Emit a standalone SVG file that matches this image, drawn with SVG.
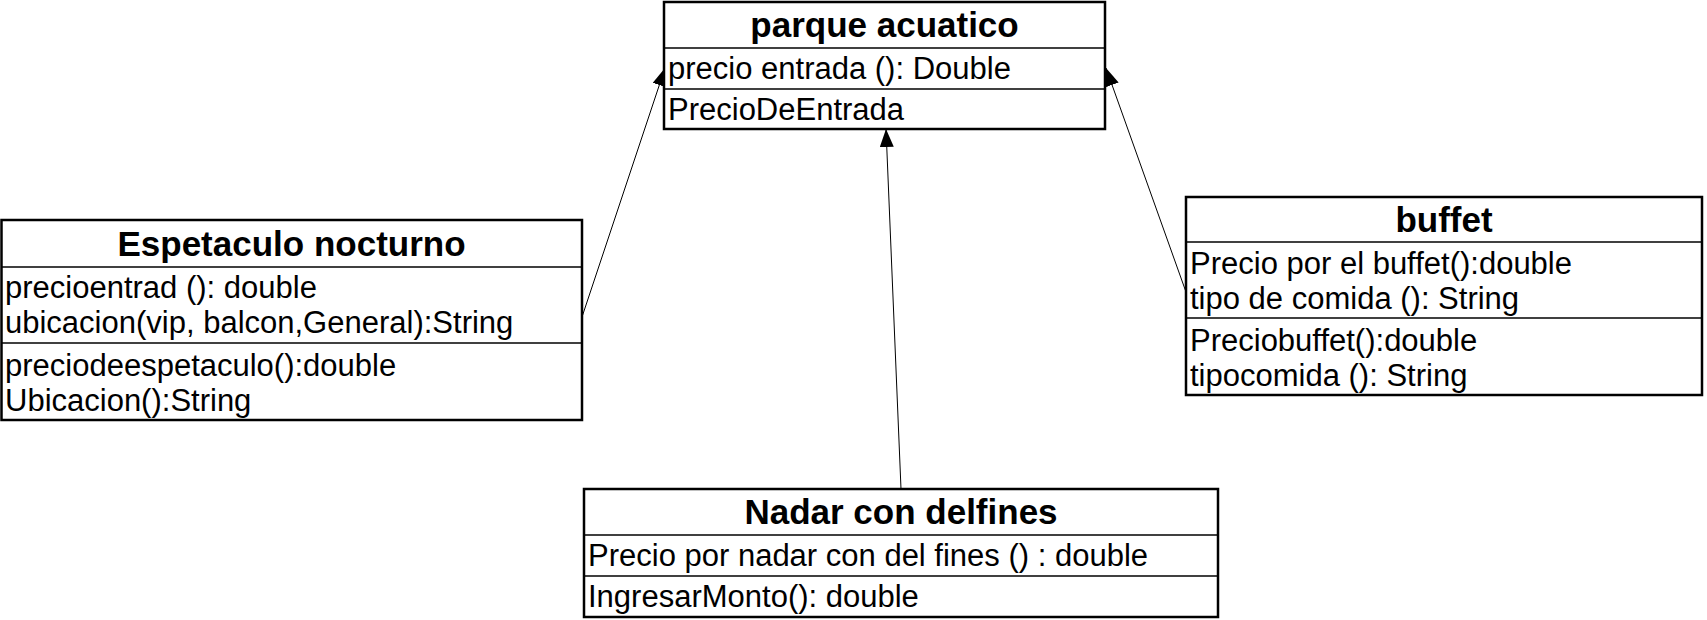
<svg xmlns="http://www.w3.org/2000/svg" width="1707" height="620" viewBox="0 0 1707 620">
<style>
.box{fill:#fff;stroke:#000;stroke-width:2.5}
.div{stroke:#000;stroke-width:1.5}
.t{font-family:"Liberation Sans",Arial,sans-serif;font-size:35px;font-weight:bold;text-anchor:middle;fill:#000}
.b{font-family:"Liberation Sans",Arial,sans-serif;font-size:31px;fill:#000}
.c{stroke:#000;stroke-width:1;fill:none}
</style>
<defs>
<marker id="tri" markerUnits="userSpaceOnUse" markerWidth="20" markerHeight="16" refX="18" refY="7" orient="auto">
<path d="M0,0 L18,7 L0,14 z" fill="#000"/>
</marker>
</defs>
<rect width="1707" height="620" fill="#fff"/>
<g id="connectors">
<line class="c" x1="582" y1="317" x2="665" y2="68" marker-end="url(#tri)"/>
<line class="c" x1="901" y1="489" x2="886" y2="129" marker-end="url(#tri)"/>
<line class="c" x1="1186" y1="292" x2="1106" y2="68" marker-end="url(#tri)"/>
</g>
<g id="parque">
<rect class="box" x="664" y="2" width="441" height="127"/>
<line class="div" x1="664" y1="48" x2="1105" y2="48"/>
<line class="div" x1="664" y1="89" x2="1105" y2="89"/>
<text class="t" x="884.5" y="37">parque acuatico</text>
<text class="b" x="668" y="79">precio entrada (): Double</text>
<text class="b" x="668" y="120">PrecioDeEntrada</text>
</g>
<g id="espetaculo">
<rect class="box" x="1.5" y="220" width="580.5" height="200"/>
<line class="div" x1="1.5" y1="267" x2="582" y2="267"/>
<line class="div" x1="1.5" y1="343" x2="582" y2="343"/>
<text class="t" x="291.5" y="256">Espetaculo nocturno</text>
<text class="b" x="5" y="298">precioentrad (): double</text>
<text class="b" x="5" y="333">ubicacion(vip, balcon,General):String</text>
<text class="b" x="5" y="376">preciodeespetaculo():double</text>
<text class="b" x="5" y="411">Ubicacion():String</text>
</g>
<g id="buffet">
<rect class="box" x="1186" y="197" width="516" height="198"/>
<line class="div" x1="1186" y1="242" x2="1702" y2="242"/>
<line class="div" x1="1186" y1="318" x2="1702" y2="318"/>
<text class="t" x="1444" y="232">buffet</text>
<text class="b" x="1190" y="274">Precio por el buffet():double</text>
<text class="b" x="1190" y="309">tipo de comida (): String</text>
<text class="b" x="1190" y="351">Preciobuffet():double</text>
<text class="b" x="1190" y="386">tipocomida (): String</text>
</g>
<g id="nadar">
<rect class="box" x="584" y="489" width="634" height="128"/>
<line class="div" x1="584" y1="535" x2="1218" y2="535"/>
<line class="div" x1="584" y1="576" x2="1218" y2="576"/>
<text class="t" x="901" y="524">Nadar con delfines</text>
<text class="b" x="588" y="566">Precio por nadar con del fines () : double</text>
<text class="b" x="588" y="607">IngresarMonto(): double</text>
</g>
</svg>
